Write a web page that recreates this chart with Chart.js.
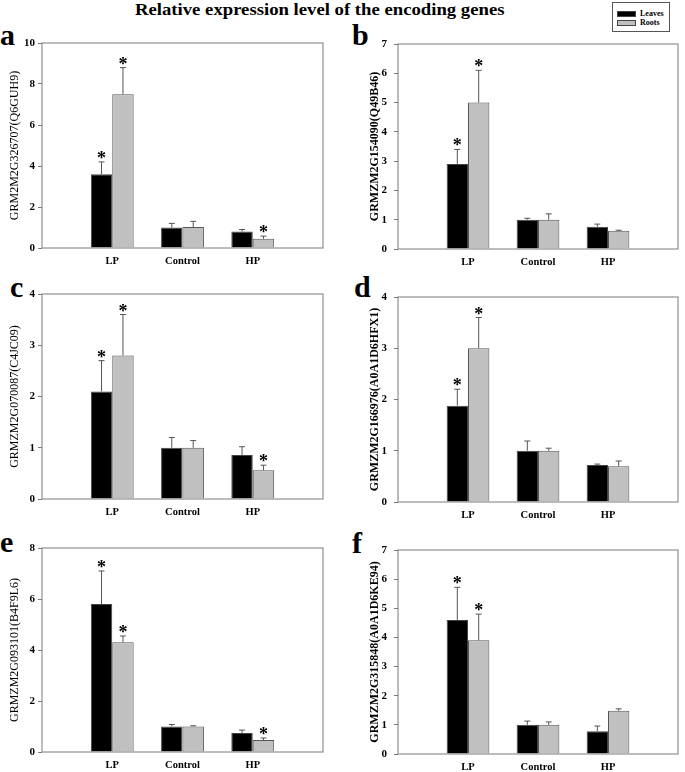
<!DOCTYPE html>
<html>
<head>
<meta charset="utf-8">
<script src="https://cdn.jsdelivr.net/npm/chart.js@4.4.1/dist/chart.umd.min.js"></script>
<style>
  body { margin: 0; background: #fff; width: 685px; height: 772px; position: relative; overflow: hidden; font-family: "Liberation Serif", "Times New Roman", serif; }
  canvas { position: absolute; }
  .letter { position: absolute; font-weight: bold; font-size: 30px; line-height: 30px; }
  #title { position: absolute; left: 135px; top: 1px; font-weight: bold; font-size: 17px; line-height: 17px; white-space: nowrap; transform: scaleX(1.1); transform-origin: left top; }
  #legend { position: absolute; left: 612px; top: 2px; width: 56px; height: 28px; border: 1px solid #555; font-size: 8px; font-weight: bold; }
  #legend div { position: absolute; left: 4px; height: 10px; line-height: 10px; }
  #legend span.sw { display: inline-block; width: 17px; height: 4px; border: 1px solid #444; vertical-align: middle; margin-right: 4px; }
</style>
</head>
<body>
<div id="title">Relative expression level of the encoding genes</div>
<div id="legend">
  <div style="top:6px"><span class="sw" style="background:#000"></span>Leaves</div>
  <div style="top:15px"><span class="sw" style="background:#c0c0c0"></span>Roots</div>
</div>
<div class="letter" style="left:0px;top:20px">a</div>
<div class="letter" style="left:352px;top:20px">b</div>
<div class="letter" style="left:10px;top:272px">c</div>
<div class="letter" style="left:354px;top:272px">d</div>
<div class="letter" style="left:0px;top:527px">e</div>
<div class="letter" style="left:352px;top:528px">f</div>
<script>
const categories = ['LP', 'Control', 'HP'];

const aLeaves = [3.6, 1.0, 0.8];
const aLeavesErr = [0.6, 0.2, 0.1];
const aRoots = [7.5, 1.02, 0.45];
const aRootsErr = [1.3, 0.28, 0.13];
const aLeavesStar = [true, false, false];
const aRootsStar = [true, false, true];

const bLeaves = [2.9, 1.0, 0.76];
const bLeavesErr = [0.5, 0.05, 0.09];
const bRoots = [5.0, 1.0, 0.62];
const bRootsErr = [1.1, 0.2, 0.02];
const bLeavesStar = [true, false, false];
const bRootsStar = [true, false, false];

const cLeaves = [2.1, 1.0, 0.86];
const cLeavesErr = [0.6, 0.2, 0.16];
const cRoots = [2.8, 1.0, 0.56];
const cRootsErr = [0.8, 0.14, 0.1];
const cLeavesStar = [true, false, false];
const cRootsStar = [true, false, true];

const dLeaves = [1.88, 1.0, 0.72];
const dLeavesErr = [0.32, 0.19, 0.02];
const dRoots = [3.0, 1.0, 0.7];
const dRootsErr = [0.6, 0.05, 0.1];
const dLeavesStar = [true, false, false];
const dRootsStar = [true, false, false];

const eLeaves = [5.8, 1.0, 0.75];
const eLeavesErr = [1.3, 0.08, 0.11];
const eRoots = [4.3, 1.0, 0.47];
const eRootsErr = [0.25, 0.03, 0.08];
const eLeavesStar = [true, false, false];
const eRootsStar = [true, false, true];

const fLeaves = [4.6, 1.0, 0.78];
const fLeavesErr = [1.12, 0.13, 0.18];
const fRoots = [3.9, 1.0, 1.48];
const fRootsErr = [0.9, 0.1, 0.07];
const fLeavesStar = [true, false, false];
const fRootsStar = [true, false, false];

// y axis titles and ranges
const yTitles = ['GRM2M2G326707(Q6GUH9)', 'GRMZM2G154090(Q49B46)', 'GRMZM2G070087(C4JC09)',
                 'GRMZM2G166976(A0A1D6HFX1)', 'GRMZM2G093101(B4F9L6)', 'GRMZM2G315848(A0A1D6KE94)'];
const yMax = [10, 7, 4, 4, 8, 7];
const yStep = [2, 1, 1, 1, 2, 1];

const pad = arr => [null, ...arr, null];

// frame, error bars and asterisks
const extras = {
  id: 'extras',
  afterDatasetsDraw(chart) {
    const { ctx, chartArea: a, scales: { y } } = chart;
    ctx.save();
    ctx.strokeStyle = '#7a7a7a';
    ctx.lineWidth = 1;
    ctx.strokeRect(a.left, a.top, a.right - a.left, a.bottom - a.top);
    chart.data.datasets.forEach((ds, di) => {
      chart.getDatasetMeta(di).data.forEach((bar, i) => {
        const v = ds.data[i];
        if (v == null) return;
        const top = y.getPixelForValue(v + ds.err[i]);
        const base = y.getPixelForValue(v);
        ctx.strokeStyle = '#555';
        ctx.beginPath();
        ctx.moveTo(bar.x, base);
        ctx.lineTo(bar.x, top);
        ctx.moveTo(bar.x - 3, top);
        ctx.lineTo(bar.x + 3, top);
        ctx.stroke();
        if (ds.stars[i]) {
          ctx.fillStyle = '#000';
          ctx.font = 'bold 18px "Liberation Serif"';
          ctx.textAlign = 'center';
          ctx.textBaseline = 'alphabetic';
          const m = ctx.measureText('*');
          ctx.fillText('*', bar.x, top - 3 - m.actualBoundingBoxDescent);
        }
      });
    });
    ctx.restore();
  }
};

const boxes = [
  { col: 0, T: 43, B: 248 },
  { col: 1, T: 44, B: 249 },
  { col: 0, T: 294, B: 499 },
  { col: 1, T: 297, B: 502 },
  { col: 0, T: 548, B: 752 },
  { col: 1, T: 550, B: 754 }
];

const series = [
  [aLeaves, aLeavesErr, aLeavesStar, aRoots, aRootsErr, aRootsStar],
  [bLeaves, bLeavesErr, bLeavesStar, bRoots, bRootsErr, bRootsStar],
  [cLeaves, cLeavesErr, cLeavesStar, cRoots, cRootsErr, cRootsStar],
  [dLeaves, dLeavesErr, dLeavesStar, dRoots, dRootsErr, dRootsStar],
  [eLeaves, eLeavesErr, eLeavesStar, eRoots, eRootsErr, eRootsStar],
  [fLeaves, fLeavesErr, fLeavesStar, fRoots, fRootsErr, fRootsStar]
];

boxes.forEach((box, k) => {
  const right = box.col === 1;
  const left = right ? 340 : 0;
  const width = right ? 345 : 330;
  const padTop = 20;
  const xAxisH = 24;
  const height = box.B - box.T + padTop + xAxisH;
  const yAxisW = right ? 58 : 42;
  const plotRight = right ? 343 : 327;

  const cv = document.createElement('canvas');
  cv.width = width;
  cv.height = height;
  cv.style.left = left + 'px';
  cv.style.top = (box.T - padTop) + 'px';
  cv.style.width = width + 'px';
  cv.style.height = height + 'px';
  document.body.appendChild(cv);

  const [lv, le, ls, rv, re, rs] = series[k];
  new Chart(cv, {
    type: 'bar',
    data: {
      labels: pad(categories).map(c => c || ''),
      datasets: [
        { label: 'Leaves', data: pad(lv), err: pad(le), stars: pad(ls),
          backgroundColor: '#000', borderColor: '#444', borderWidth: 1 },
        { label: 'Roots', data: pad(rv), err: pad(re), stars: pad(rs),
          backgroundColor: '#c0c0c0', borderColor: '#555', borderWidth: 1 }
      ]
    },
    options: {
      responsive: false,
      animation: false,
      events: [],
      categoryPercentage: 0.61,
      barPercentage: 1,
      layout: { padding: { top: padTop, right: width - plotRight, left: 0, bottom: 0 } },
      plugins: { legend: { display: false }, tooltip: { enabled: false } },
      scales: {
        x: {
          offset: false,
          grid: { display: false, drawTicks: false },
          border: { display: false },
          ticks: { autoSkip: false, maxRotation: 0, padding: 7, color: '#000',
                   font: { family: 'Liberation Serif', weight: 'bold', size: 10.5 } },
          afterFit(s) { s.height = xAxisH; }
        },
        y: {
          min: 0,
          max: yMax[k],
          ticks: { stepSize: yStep[k], padding: right ? 7 : 3, color: '#000',
                   font: { family: 'Liberation Serif', weight: 'bold', size: 11 } },
          grid: { drawOnChartArea: false, drawTicks: true, tickLength: 4, color: '#7a7a7a' },
          border: { display: false },
          title: {
            display: true,
            text: yTitles[k],
            color: '#000',
            padding: { top: right ? 27.8 : 7.8, bottom: 0 },
            font: { family: 'Liberation Serif', size: 12, weight: right ? 'bold' : 'normal' }
          },
          afterFit(s) { s.width = yAxisW; }
        }
      }
    },
    plugins: [extras]
  });
});
</script>
</body>
</html>
